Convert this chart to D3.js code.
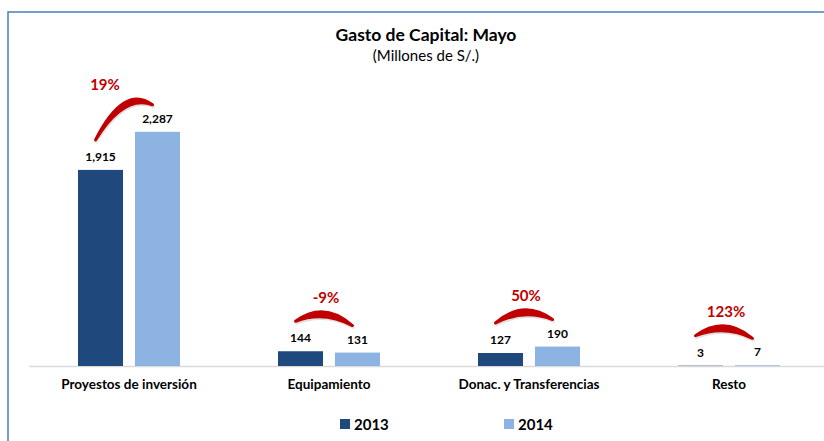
<!DOCTYPE html>
<html>
<head>
<meta charset="utf-8">
<script src="https://cdn.jsdelivr.net/npm/d3@7"></script>
<style>
  body { margin: 0; background: #fff; }
  text { font-family: Lato, "Open Sans", sans-serif; }
</style>
</head>
<body>
<svg id="chart" width="824" height="441"></svg>
<script>
// data
var categories = ["Proyestos de inversión", "Equipamiento", "Donac. y Transferencias", "Resto"];
var seriesNames = ["2013", "2014"];
var values2013 = [1915, 144, 127, 3];
var values2014 = [2287, 131, 190, 7];
var pctLabels = ["19%", "-9%", "50%", "123%"];

var colors = { "2013": "#1f497d", "2014": "#8db3e2" };
var red = "#c00000";

var svg = d3.select("#chart");
var baseY = 366;

// frame (only top and left edges show in the crop)
svg.append("path")
  .attr("d", "M8,441 L8,12 L824,12")
  .attr("fill", "none")
  .attr("stroke", "#4a7ebb")
  .attr("stroke-width", 1.5);

// titles
svg.append("text")
  .attr("x", 426).attr("y", 41)
  .attr("text-anchor", "middle")
  .style("font-weight", "bold").style("font-size", "17.5px")
  .text("Gasto de Capital: Mayo");
svg.append("text")
  .attr("x", 426).attr("y", 61)
  .attr("text-anchor", "middle")
  .style("font-size", "15px")
  .text("(Millones de S/.)");

var x0 = d3.scaleBand().domain(categories).range([29, 829]).paddingInner(0);
var x1 = d3.scaleBand().domain(seriesNames).range([0, x0.bandwidth()])
  .paddingInner(0.21).paddingOuter(0.86);
var y = d3.scaleLinear().domain([0, 2500]).range([baseY, 110]);

// baseline
svg.append("line")
  .attr("x1", 29).attr("x2", 824)
  .attr("y1", baseY + 0.5).attr("y2", baseY + 0.5)
  .attr("stroke", "#d9d9d9").attr("stroke-width", 1.5);

var rows = categories.map(function(c, i) {
  return { cat: c, v: { "2013": values2013[i], "2014": values2014[i] }, pct: pctLabels[i], i: i };
});

var groups = svg.selectAll(".grp")
  .data(rows)
  .enter()
  .append("g")
  .attr("class", "grp")
  .attr("transform", function(d) { return "translate(" + x0(d.cat) + ",0)"; });

groups.selectAll("rect")
  .data(function(d) { return seriesNames.map(function(s) { return { s: s, v: d.v[s] }; }); })
  .enter()
  .append("rect")
  .attr("x", function(d) { return x1(d.s); })
  .attr("width", x1.bandwidth())
  .attr("y", function(d) { return y(d.v); })
  .attr("height", function(d) { return baseY - y(d.v); })
  .attr("fill", function(d) { return colors[d.s]; });

var fmt = d3.format(",");
groups.selectAll(".val")
  .data(function(d) { return seriesNames.map(function(s) { return { s: s, v: d.v[s] }; }); })
  .enter()
  .append("text")
  .attr("class", "val")
  .attr("x", function(d) { return x1(d.s) + x1.bandwidth() / 2; })
  .attr("y", function(d) { return y(d.v) - 9; })
  .attr("text-anchor", "middle")
  .style("font-weight", "bold").style("font-size", "12px")
  .text(function(d) { return fmt(d.v); });

// category labels
groups.append("text")
  .attr("x", x0.bandwidth() / 2)
  .attr("y", 389)
  .attr("text-anchor", "middle")
  .style("font-weight", "bold").style("font-size", "13.5px")
  .text(function(d) { return d.cat; });

// red brush arcs between the two value labels
// layout nudge for the first label, which sits to the left of its arc
var pctNudge = [-21, 0, 0, 0];

groups.each(function(d) {
  var g = d3.select(this);
  var cx13 = x1("2013") + x1.bandwidth() / 2;
  var cx14 = x1("2014") + x1.bandwidth() / 2;
  var p0 = [cx13 - 5, y(d.v["2013"]) - 9 - 21];
  var p2 = [cx14 - 5, y(d.v["2014"]) - 9 - 18];
  var c = [(p0[0] + p2[0]) / 2, Math.min(p0[1], p2[1]) - 16];
  var thick = 5;
  var shape = "M" + p0[0] + "," + p0[1] +
    "Q" + c[0] + "," + (c[1] - thick) + " " + p2[0] + "," + p2[1] +
    "Q" + c[0] + "," + (c[1] + thick) + " " + p0[0] + "," + p0[1] + "Z";

  g.append("path")
    .attr("d", shape)
    .attr("transform", "translate(1,2)")
    .attr("fill", "#888").attr("stroke", "#888")
    .attr("stroke-width", 2.5).attr("stroke-linejoin", "round")
    .attr("opacity", 0.25);
  g.append("path")
    .attr("d", shape)
    .attr("fill", red).attr("stroke", red)
    .attr("stroke-width", 3).attr("stroke-linejoin", "round");

  // top of the curve
  var peak = d3.min(d3.range(0, 1.01, 0.05), function(t) {
    return (1 - t) * (1 - t) * p0[1] + 2 * t * (1 - t) * c[1] + t * t * p2[1];
  });
  g.append("text")
    .attr("x", x0.bandwidth() / 2 - 3 + pctNudge[d.i])
    .attr("y", peak - 11)
    .attr("text-anchor", "middle")
    .style("font-weight", "bold").style("font-size", "15px")
    .attr("fill", red)
    .text(d.pct);
});

// legend
var legX = [340, 504];
var legend = svg.selectAll(".leg")
  .data(seriesNames)
  .enter()
  .append("g")
  .attr("class", "leg")
  .attr("transform", function(d, i) { return "translate(" + legX[i] + ",419)"; });
legend.append("rect")
  .attr("width", 10).attr("height", 10)
  .attr("fill", function(d) { return colors[d]; });
legend.append("text")
  .attr("x", 14).attr("y", 11)
  .style("font-weight", "bold").style("font-size", "15px")
  .text(function(d) { return d; });
</script>
</body>
</html>
